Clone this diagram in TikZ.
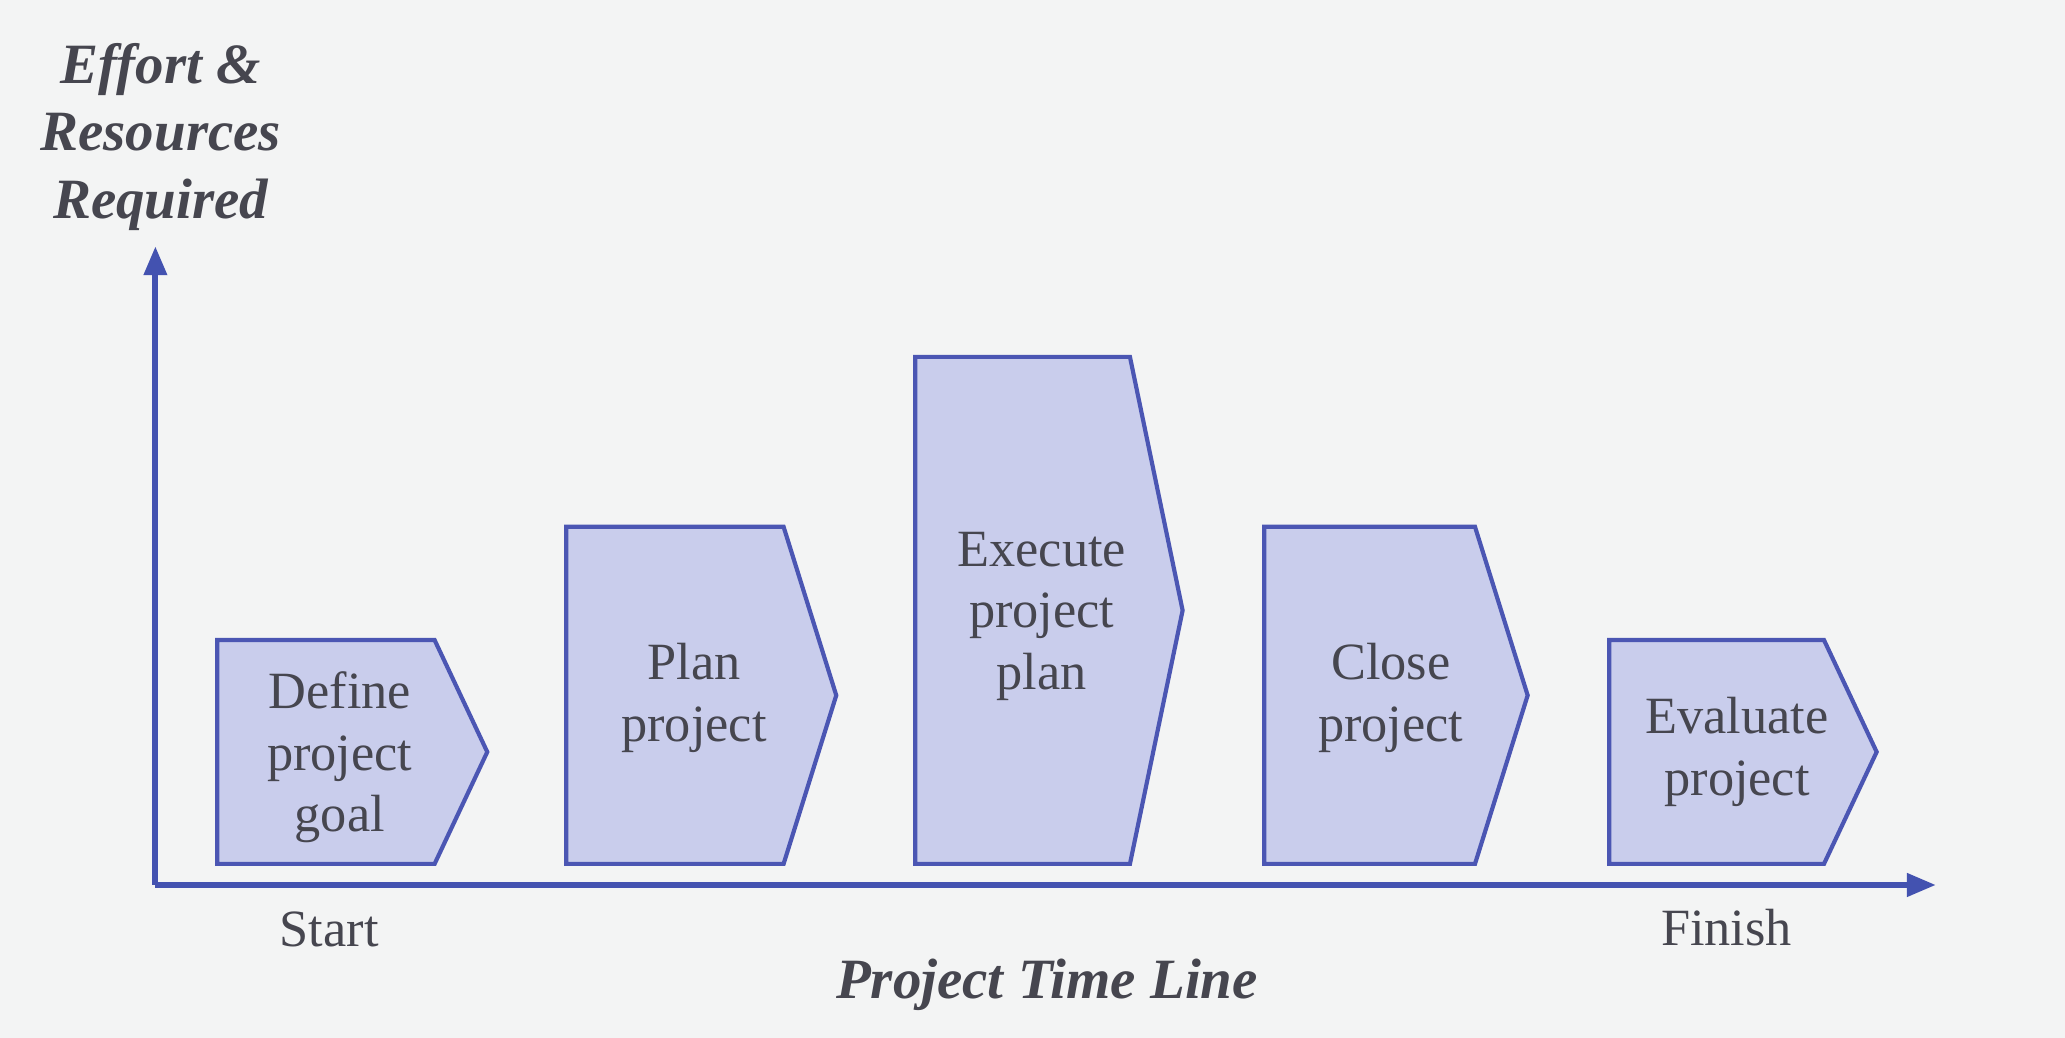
\documentclass[tikz,border=0pt]{standalone}
\usepackage{fontspec}
\setmainfont{Liberation Serif}
\usetikzlibrary{arrows.meta}
\definecolor{bg}{HTML}{F3F4F4}
\definecolor{boxfill}{HTML}{C9CDEC}
\definecolor{boxline}{HTML}{4B56B3}
\definecolor{axisline}{HTML}{4352B0}
\definecolor{ink}{HTML}{46464F}
\tikzset{
  phase/.style={draw=boxline, fill=boxfill, line width=0.9pt, line join=miter},
  phasetext/.style={text=ink, align=center, font=\fontsize{11.3}{13.3}\selectfont},
  axislabel/.style={text=ink, font=\fontsize{11.3}{13.3}\selectfont},
  titlelabel/.style={text=ink, align=center, font=\fontsize{12.3}{14.5}\selectfont\bfseries\itshape},
  axisarrow/.style={draw=axisline, line width=1.3pt, -{Triangle[length=0.22cm,width=0.17cm]}}
}
\begin{document}
\begin{tikzpicture}[x=0.01cm,y=0.01cm]
\fill[bg] (0,0) rectangle (1568,788);
\useasboundingbox (0,0) rectangle (1568,788);

% phase shapes
\draw[phase] (165,132) -- (330,132) -- (370,217) -- (330,302) -- (165,302) -- cycle;
\draw[phase] (430,132) -- (595,132) -- (635,260) -- (595,388) -- (430,388) -- cycle;
\draw[phase] (695,132) -- (858,132) -- (898,324.5) -- (858,517) -- (695,517) -- cycle;
\draw[phase] (960,132) -- (1120,132) -- (1160,260) -- (1120,388) -- (960,388) -- cycle;
\draw[phase] (1222,132) -- (1385,132) -- (1425,217) -- (1385,302) -- (1222,302) -- cycle;

% phase texts
\node[phasetext] (define) at (258,213) {Define\\project\\goal};
\node[phasetext] (plan) at (527,258) {Plan\\project};
\node[phasetext] (execute) at (791,320) {Execute\\project\\plan};
\node[phasetext] (close) at (1056,258) {Close\\project};
\node[phasetext] (evaluate) at (1319,217) {Evaluate\\project};

% axes
\coordinate (origin) at (118,116);
\coordinate (ytip) at (118,601);
\coordinate (xtip) at (1470,116);
\draw[axisarrow] (origin) -- (ytip);
\draw[axisarrow] (origin) -- (xtip);

% labels
\node[titlelabel] (effort) at (122,684) {Effort \&\\Resources\\Required};
\node[axislabel] (start) at (250,82) {Start};
\node[axislabel] (finish) at (1311,84) {Finish};
\node[titlelabel] (timeline) at (795,40) {Project Time Line};
\end{tikzpicture}
\end{document}
